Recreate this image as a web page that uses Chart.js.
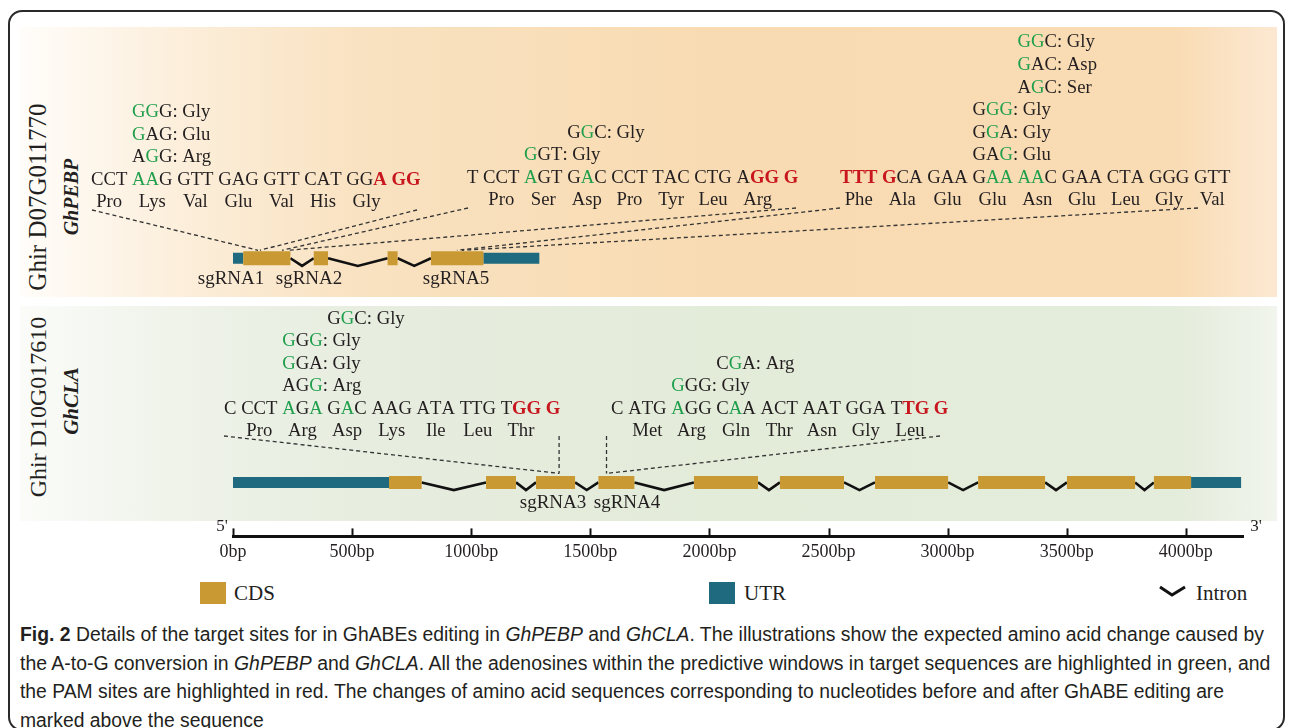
<!DOCTYPE html>
<html>
<head>
<meta charset="utf-8">
<script src="https://cdn.jsdelivr.net/npm/chart.js@4.4.1/dist/chart.umd.min.js"></script>
<style>
  body { margin:0; background:#fff; }
  #wrap { position:relative; width:1290px; height:728px; overflow:hidden; font-family:"Liberation Serif", serif; color:#231f20; }
  #box { position:absolute; left:8px; top:10px; width:1277px; height:721px; border:2px solid #2a2a2a; border-radius:14px; box-sizing:border-box; }
  .panel { position:absolute; left:20px; width:1257px; }
  #p1 { top:27px; height:270px; background:linear-gradient(to right,#fffdfa 0%,#fcefdc 12%,#f9e2c1 27%,#f8dbb2 55%,#f9dcb4 92%,#fce8d2 100%); }
  #p2 { top:306px; height:215px; background:linear-gradient(to right,#fbfcf9 0%,#eff3ea 12%,#e7eddf 27%,#e3ebd9 55%,#e4ecdb 92%,#f1f5ed 100%); }
  .vlab { position:absolute; transform:translate(-50%,-50%) rotate(-90deg); white-space:nowrap; }
  canvas { position:absolute; left:0; top:0; }
  .sw { position:absolute; width:26px; height:22px; }
  .lg { position:absolute; font-size:21px; line-height:22px; }
  #cap { position:absolute; left:20px; top:620px; font-family:"Liberation Sans", Arial, sans-serif; font-size:20px; line-height:28.5px; color:#231f20; }
  #cap div { white-space:nowrap; transform-origin:0 50%; }
</style>
</head>
<body>
<div id="wrap">
  <div id="box"></div>
  <div class="panel" id="p1"></div>
  <div class="panel" id="p2"></div>
  <div class="vlab" style="left:38px;top:197px;font-size:25px">Ghir D07G011770</div>
  <div class="vlab" style="left:71px;top:197px;font-size:20px;font-weight:bold;font-style:italic">GhPEBP</div>
  <div class="vlab" style="left:38px;top:407px;font-size:24px">Ghir D10G017610</div>
  <div class="vlab" style="left:71px;top:401px;font-size:21px;font-weight:bold;font-style:italic">GhCLA</div>
  <canvas id="chart" width="1290" height="580"></canvas>
  <div class="sw" style="left:200px;top:582px;background:#c99a33"></div>
  <div class="lg" style="left:234px;top:582px">CDS</div>
  <div class="sw" style="left:709px;top:582px;background:#1f6a7f"></div>
  <div class="lg" style="left:744px;top:582px">UTR</div>
  <svg style="position:absolute;left:1159px;top:585px" width="28" height="14"><polyline points="1,2 13,10 26,2" fill="none" stroke="#111" stroke-width="3"/></svg>
  <div class="lg" style="left:1196px;top:582px">Intron</div>
  <div id="cap">
    <div data-w="1245"><b>Fig. 2</b> Details of the target sites for in GhABEs editing in <i>GhPEBP</i> and <i>GhCLA</i>. The illustrations show the expected amino acid change caused by</div>
    <div data-w="1250">the A-to-G conversion in <i>GhPEBP</i> and <i>GhCLA</i>. All the adenosines within the predictive windows in target sequences are highlighted in green, and</div>
    <div data-w="1242">the PAM sites are highlighted in red. The changes of amino acid sequences corresponding to nucleotides before and after GhABE editing are</div>
    <div>marked above the sequence</div>
  </div>
</div>
<script>
// axis
const tickValues = [0, 500, 1000, 1500, 2000, 2500, 3000, 3500, 4000];
const axisMax = 4240;

// gene models, bp
const pebpUTR = [[0, 43], [1051, 1286]];
const pebpCDS = [[43, 241], [339, 399], [649, 691], [831, 1051]];
const claUTR = [[0, 655], [4022, 4232]];
const claCDS = [[655, 792], [1062, 1188], [1272, 1436], [1534, 1685], [1935, 2204],
                [2296, 2565], [2695, 3002], [3128, 3409], [3501, 3787], [3866, 4022]];
const trackY = { pebp: 54.6, cla: 10.6 };
const intronDip = 1.5;

// target sites: sequence codons, colour masks (k black, g green, r red bold), amino acids, edits
const sgRNA1 = { label: 'sgRNA1', track: 'pebp', bp: [105, 113], labelX: 231, x: 91, y: 180, ends: [92, 417],
  seq: ['CCT', 'AAG', 'GTT', 'GAG', 'GTT', 'CAT', 'GGA', 'GG'],
  mask: ['kkk', 'ggk', 'kkk', 'kkk', 'kkk', 'kkk', 'kkr', 'rr'],
  aa: ['Pro', 'Lys', 'Val', 'Glu', 'Val', 'His', 'Gly', null],
  edits: [[1, 'AGG', 'kgk', 'Arg'], [1, 'GAG', 'gkk', 'Glu'], [1, 'GGG', 'ggk', 'Gly']] };
const sgRNA2 = { label: 'sgRNA2', track: 'pebp', bp: [206, 231], labelX: 309, x: 467, y: 178, ends: [468, 796],
  seq: ['T', 'CCT', 'AGT', 'GAC', 'CCT', 'TAC', 'CTG', 'AGG', 'G'],
  mask: ['k', 'kkk', 'gkk', 'kgk', 'kkk', 'kkk', 'kkk', 'krr', 'r'],
  aa: [null, 'Pro', 'Ser', 'Asp', 'Pro', 'Tyr', 'Leu', 'Arg', null],
  edits: [[2, 'GGT', 'gkk', 'Gly'], [3, 'GGC', 'kgk', 'Gly']] };
const sgRNA5 = { label: 'sgRNA5', track: 'pebp', bp: [940, 961], labelX: 456, x: 840, y: 178, ends: [840, 1198],
  seq: ['TTT', 'GCA', 'GAA', 'GAA', 'AAC', 'GAA', 'CTA', 'GGG', 'GTT'],
  mask: ['rrr', 'rkk', 'kkk', 'kgg', 'ggk', 'kkk', 'kkk', 'kkk', 'kkk'],
  aa: ['Phe', 'Ala', 'Glu', 'Glu', 'Asn', 'Glu', 'Leu', 'Gly', 'Val'],
  edits: [[3, 'GAG', 'kkg', 'Glu'], [3, 'GGA', 'kgk', 'Gly'], [3, 'GGG', 'kgg', 'Gly'],
          [4, 'AGC', 'kgk', 'Ser'], [4, 'GAC', 'gkk', 'Asp'], [4, 'GGC', 'ggk', 'Gly']] };
const sgRNA3 = { label: 'sgRNA3', track: 'cla', bp: [1369, 1369], labelX: 553, x: 224, y: 409, ends: [224, null],
  seq: ['C', 'CCT', 'AGA', 'GAC', 'AAG', 'ATA', 'TTG', 'TGG', 'G'],
  mask: ['k', 'kkk', 'gkg', 'kgk', 'kkk', 'kkk', 'kkk', 'krr', 'r'],
  aa: [null, 'Pro', 'Arg', 'Asp', 'Lys', 'Ile', 'Leu', 'Thr', null],
  edits: [[2, 'AGG', 'kkg', 'Arg'], [2, 'GGA', 'gkk', 'Gly'], [2, 'GGG', 'gkg', 'Gly'], [3, 'GGC', 'kgk', 'Gly']] };
const sgRNA4 = { label: 'sgRNA4', track: 'cla', bp: [1568, 1568], labelX: 627, x: 611, y: 409, ends: [null, 940],
  seq: ['C', 'ATG', 'AGG', 'CAA', 'ACT', 'AAT', 'GGA', 'TTG', 'G'],
  mask: ['k', 'kkk', 'gkk', 'kgk', 'kkk', 'kkk', 'kkk', 'krr', 'r'],
  aa: [null, 'Met', 'Arg', 'Gln', 'Thr', 'Asn', 'Gly', 'Leu', null],
  edits: [[2, 'GGG', 'gkk', 'Gly'], [3, 'CGA', 'kgk', 'Arg']] };
const sites = [sgRNA1, sgRNA2, sgRNA5, sgRNA3, sgRNA4];

const INK = '#231f20', GREEN = '#1f9f4c', RED = '#c8161e';
const GOLD = '#c99a33', TEAL = '#1f6a7f';
const FONT = '"Liberation Serif", serif';
const SEQ = '18.7px ' + FONT;

function segs(list, y) {
  const pts = [];
  list.forEach(([a, b]) => pts.push({ x: a, y: y }, { x: b, y: y }, { x: b, y: null }));
  return pts;
}
function introns(cds, y) {
  const pts = [];
  for (let i = 0; i < cds.length - 1; i++) {
    const a = cds[i][1], b = cds[i + 1][0];
    pts.push({ x: a, y: y }, { x: (a + b) / 2, y: y - intronDip }, { x: b, y: y }, { x: b, y: null });
  }
  return pts;
}
function lineDs(data, color, width, order) {
  return { data: data, borderColor: color, borderWidth: width, pointRadius: 0, spanGaps: false,
           borderCapStyle: 'butt', borderJoinStyle: 'miter', tension: 0, order: order };
}

// write a word letter by letter with its colour mask
function word(ctx, x, y, w, m) {
  let cx = x;
  for (let i = 0; i < w.length; i++) {
    const c = m ? m[i] : 'k';
    ctx.font = (c === 'r' ? 'bold ' : '') + SEQ;
    ctx.fillStyle = c === 'g' ? GREEN : c === 'r' ? RED : INK;
    ctx.fillText(w[i], cx, y);
    cx += ctx.measureText(w[i]).width;
  }
  return cx - x;
}

const sitePlugin = {
  id: 'sites',
  afterDraw(chart) {
    const ctx = chart.ctx, xs = chart.scales.x, ys = chart.scales.y;
    ctx.save();
    // upward ticks
    ctx.strokeStyle = '#111';
    ctx.lineWidth = 2;
    xs.ticks.forEach(t => {
      const px = Math.round(xs.getPixelForValue(t.value)) + 0.5;
      ctx.beginPath(); ctx.moveTo(px, xs.top); ctx.lineTo(px, xs.top - 8); ctx.stroke();
    });
    ctx.font = '17px ' + FONT;
    ctx.fillStyle = INK;
    ctx.textAlign = 'center';
    ctx.textBaseline = 'middle';
    ctx.fillText("5'", chart.chartArea.left - 11, xs.top - 10);
    ctx.fillText("3'", chart.chartArea.right + 13, xs.top - 10);

    sites.forEach(s => {
      const gy = ys.getPixelForValue(trackY[s.track]);
      ctx.textAlign = 'left';
      ctx.textBaseline = 'middle';
      ctx.font = SEQ;
      const space = ctx.measureText(' ').width;
      const starts = [];
      let x = s.x;
      s.seq.forEach((w, i) => {
        const wd = word(ctx, x, s.y, w, s.mask[i]);
        starts.push([x, wd]);
        ctx.font = SEQ;
        x += wd + space;
      });
      // amino acids under codons
      ctx.font = SEQ;
      ctx.fillStyle = INK;
      ctx.textAlign = 'center';
      s.aa.forEach((a, i) => {
        if (a) ctx.fillText(a, starts[i][0] + starts[i][1] / 2, s.y + 22);
      });
      // edits stacked above
      ctx.textAlign = 'left';
      s.edits.forEach((e, k) => {
        const ey = s.y - 22.6 * (k + 1);
        const ex = starts[e[0]][0];
        const wd = word(ctx, ex, ey, e[1], e[2]);
        ctx.font = SEQ;
        ctx.fillStyle = INK;
        ctx.fillText(': ' + e[3], ex + wd, ey);
      });
      // connectors
      ctx.setLineDash([4, 3]);
      ctx.strokeStyle = '#333';
      ctx.lineWidth = 1.3;
      const top = s.track === 'pebp' ? s.y + 30 : s.y + 27;
      const bottom = gy - (s.track === 'pebp' ? 8 : 9);
      s.ends.forEach((ax, k) => {
        const gx = xs.getPixelForValue(s.bp[k]);
        ctx.beginPath();
        ctx.moveTo(ax === null ? gx : ax, top);
        ctx.lineTo(gx, bottom);
        ctx.stroke();
      });
      ctx.setLineDash([]);
      // site label
      ctx.font = '19px ' + FONT;
      ctx.fillStyle = INK;
      ctx.textAlign = 'center';
      ctx.fillText(s.label, s.labelX, gy + 21);
    });
    ctx.restore();
  }
};

new Chart(document.getElementById('chart'), {
  type: 'line',
  data: {
    datasets: [
      lineDs(introns(pebpCDS, trackY.pebp), '#111', 2.6, 3),
      lineDs(introns(claCDS, trackY.cla), '#111', 2.6, 3),
      lineDs(segs(pebpUTR, trackY.pebp), TEAL, 11, 2),
      lineDs(segs(claUTR, trackY.cla), TEAL, 11, 2),
      lineDs(segs(pebpCDS, trackY.pebp), GOLD, 14, 1),
      lineDs(segs(claCDS, trackY.cla), GOLD, 13, 1)
    ]
  },
  options: {
    responsive: false,
    animation: false,
    layout: { padding: { left: 233, right: 47, top: 27, bottom: 12 } },
    plugins: { legend: { display: false }, tooltip: { enabled: false } },
    scales: {
      x: {
        type: 'linear', min: 0, max: axisMax,
        afterBuildTicks: s => { s.ticks = tickValues.map(v => ({ value: v })); },
        grid: { display: false, drawTicks: false },
        border: { display: true, color: '#111', width: 3 },
        ticks: { callback: v => v + 'bp', color: INK, padding: 5, maxRotation: 0, autoSkip: false,
                 font: { family: 'Liberation Serif', size: 18 } }
      },
      y: { type: 'linear', min: 0, max: 100, display: false }
    }
  },
  plugins: [sitePlugin]
});

// fit caption lines to the printed widths
const capLines = document.querySelectorAll('#cap div');
let lastScale = 1;
capLines.forEach(d => {
  const target = +d.dataset.w;
  const w = d.scrollWidth;
  const sc = target ? target / w : lastScale;
  d.style.transform = 'scaleX(' + sc + ')';
  lastScale = sc;
});
</script>
</body>
</html>
